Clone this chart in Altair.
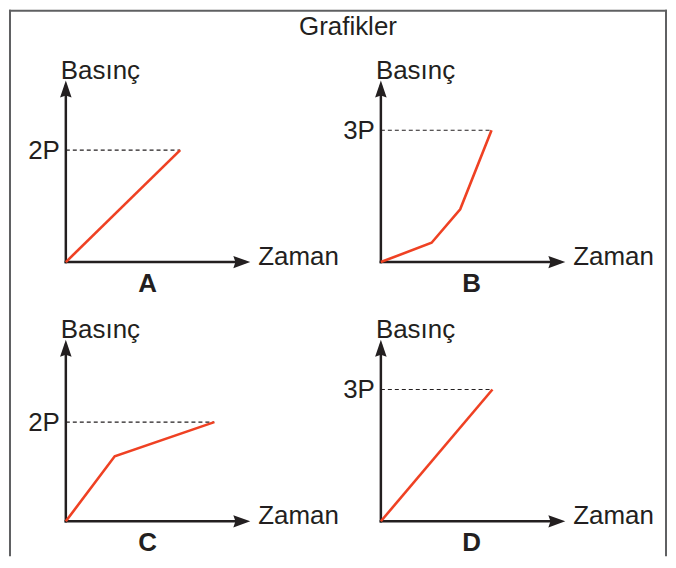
import altair as alt
import pandas as pd

# ---------------- data ----------------
panels = ["A", "B", "C", "D"]
level_labels = ["2P", "3P", "2P", "3P"]
level_values = [2, 3, 2, 3]                 # pressure, in units of P
p_axis_reach = [3.24, 4.13, 3.66, 4.13]     # pressure (P) at the arrow tip
t_axis_reach = 10                           # time units at the arrow tip

time_A = [0, 6.2]
pres_A = [0, 2]
time_B = [0, 2.75, 4.3, 6.0]
pres_B = [0, 0.44, 1.2, 3]
time_C = [0, 2.65, 8.05]
pres_C = [0, 1.31, 2]
time_D = [0, 6.05]
pres_D = [0, 3]

y_title = "Basınç"
x_title = "Zaman"
chart_title = "Grafikler"

# ---------------- layout (pixels inside the view) ----------------
W, H = 660, 548
origins = {"A": (57, 253), "B": (373, 253), "C": (57, 513), "D": (373, 513)}
AX_W, AX_H = 185, 182
letter_dx = {"A": 82, "B": 91, "C": 82, "D": 91}
FONT = "Liberation Sans"
FS = 26
INK = "#231f20"
RED = "#ef4123"
FRAME = "#5f6062"

series = {"A": (time_A, pres_A), "B": (time_B, pres_B),
          "C": (time_C, pres_C), "D": (time_D, pres_D)}
reach = dict(zip(panels, p_axis_reach))


def px(pn, t):
    return origins[pn][0] + t / t_axis_reach * AX_W


def py(pn, p):
    return origins[pn][1] - p / reach[pn] * AX_H


line_rows, axis_rows, up_rows, right_rows = [], [], [], []
level_rows, lab_rows, ytit_rows, xtit_rows, let_rows = [], [], [], [], []
for k, pn in enumerate(panels):
    ts, ps = series[pn]
    ox, oy = origins[pn]
    for i, (t, p) in enumerate(zip(ts, ps)):
        line_rows.append({"panel": pn, "i": i, "x": px(pn, t), "y": py(pn, p)})
    tip_x = px(pn, t_axis_reach)
    tip_y = py(pn, reach[pn])
    axis_rows.append({"x": ox, "y": oy, "x2": ox, "y2": tip_y + 6})
    axis_rows.append({"x": ox, "y": oy, "x2": tip_x - 6, "y2": oy})
    up_rows.append({"x": ox, "y": tip_y})
    right_rows.append({"x": tip_x, "y": oy})
    lvl_y = py(pn, level_values[k])
    level_rows.append({"x": ox, "x2": px(pn, ts[-1]), "y": lvl_y})
    lab_rows.append({"x": ox - 6, "y": lvl_y + 1, "label": level_labels[k]})
    ytit_rows.append({"x": ox - 5, "y": tip_y - 2, "label": y_title})
    xtit_rows.append({"x": tip_x + 8, "y": oy + 3, "label": x_title})
    let_rows.append({"x": ox + letter_dx[pn], "y": oy + 30, "label": pn})

frame_rows = [
    {"x": 1, "y": 0, "x2": 1, "y2": H},          # left edge
    {"x": 0, "y": 1, "x2": W, "y2": 1},          # top edge
    {"x": W - 1, "y": 0, "x2": W - 1, "y2": H},  # right edge
]

xs = alt.Scale(domain=[0, W], nice=False, zero=False)
ys = alt.Scale(domain=[0, H], nice=False, zero=False, reverse=True)


def X(f="x"):
    return alt.X(f"{f}:Q", scale=xs, axis=None)


def Y(f="y"):
    return alt.Y(f"{f}:Q", scale=ys, axis=None)


frame = alt.Chart(pd.DataFrame(frame_rows)).mark_rule(
    color=FRAME, strokeWidth=2
).encode(x=X(), y=Y(), x2="x2:Q", y2="y2:Q")

axes = alt.Chart(pd.DataFrame(axis_rows)).mark_rule(
    color=INK, strokeWidth=2.5, strokeCap="square"
).encode(x=X(), y=Y(), x2="x2:Q", y2="y2:Q")

up_shape = "M0,0L0.68,2L0,1.75L-0.68,2Z"
right_shape = "M0,0L-2,0.72L-1.75,0L-2,-0.72Z"
arrows_up = alt.Chart(pd.DataFrame(up_rows)).mark_point(
    shape=up_shape, size=289, filled=True, color=INK, opacity=1, strokeWidth=0
).encode(x=X(), y=Y())
arrows_right = alt.Chart(pd.DataFrame(right_rows)).mark_point(
    shape=right_shape, size=289, filled=True, color=INK, opacity=1, strokeWidth=0
).encode(x=X(), y=Y())

levels = alt.Chart(pd.DataFrame(level_rows)).mark_rule(
    color=INK, strokeWidth=1.2, strokeDash=[4, 3]
).encode(x=X(), x2="x2:Q", y=Y())

curves = alt.Chart(pd.DataFrame(line_rows)).mark_line(
    color=RED, strokeWidth=2.6, strokeJoin="miter"
).encode(x=X(), y=Y(), detail="panel:N", order="i:Q")

level_text = alt.Chart(pd.DataFrame(lab_rows)).mark_text(
    align="right", baseline="middle", font=FONT, fontSize=FS, color=INK
).encode(x=X(), y=Y(), text="label:N")

ytitle_text = alt.Chart(pd.DataFrame(ytit_rows)).mark_text(
    align="left", baseline="alphabetic", font=FONT, fontSize=FS, color=INK
).encode(x=X(), y=Y(), text="label:N")

xtitle_text = alt.Chart(pd.DataFrame(xtit_rows)).mark_text(
    align="left", baseline="alphabetic", font=FONT, fontSize=FS, color=INK
).encode(x=X(), y=Y(), text="label:N")

letter_text = alt.Chart(pd.DataFrame(let_rows)).mark_text(
    align="center", baseline="alphabetic", font=FONT, fontSize=FS,
    fontWeight="bold", color=INK
).encode(x=X(), y=Y(), text="label:N")

title_text = alt.Chart(pd.DataFrame([{"x": 340, "y": 25, "label": chart_title}])).mark_text(
    align="center", baseline="alphabetic", font=FONT, fontSize=FS, color=INK
).encode(x=X(), y=Y(), text="label:N")

chart = alt.layer(
    frame, levels, axes, arrows_up, arrows_right, curves,
    level_text, ytitle_text, xtitle_text, letter_text, title_text
).properties(
    width=W, height=H, padding=0, background="white"
).configure_view(stroke=None)

chart.save("out.html", embed_options={"renderer": "svg", "actions": False})
